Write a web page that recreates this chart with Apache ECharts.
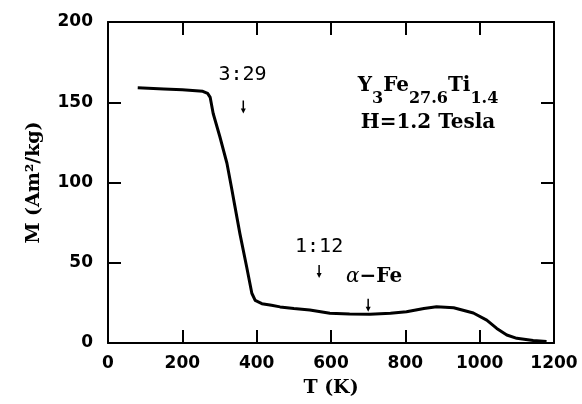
<!DOCTYPE html>
<html>
<head>
<meta charset="utf-8">
<script src="https://cdn.jsdelivr.net/npm/echarts@6/dist/echarts.min.js"></script>
<style>
html, body { margin: 0; padding: 0; background: #fff; }
#chart { width: 582px; height: 404px; }
</style>
</head>
<body>
<div id="chart"></div>
<script>
// temperature (K) and magnetization (Am^2/kg)
const temps = [80, 150, 200, 255, 268, 275, 283, 301, 320, 333, 340, 355, 373, 387, 396, 414, 440, 463, 500, 543,
    597, 650, 705, 760, 803, 850, 884, 930, 983, 1019, 1046, 1073, 1100, 1144, 1180];
const mag = [159, 158.3, 157.8, 156.8, 155.5, 153, 143, 128.5, 112, 96, 87, 68, 47.5, 31, 26.5, 24.5, 23.5, 22.5, 21.5, 20.6,
    18.5, 18, 17.9, 18.5, 19.5, 21.5, 22.6, 22, 18.7, 14.3, 9.1, 5, 2.9, 1.5, 1.0];

// phase labels and where their arrows point
const noteText = ['3:29', '1:12', 'α−Fe'];
const noteT = [362, 568, 716];
const noteM = [167, 60, 41];
const arrowT = [364, 568, 700];
const arrowM = [143, 40.5, 19.5];

// sample / field label
const boxT = 861;
const boxM = [163, 137];

let chart = echarts.init(document.getElementById('chart'));

const tickFont = { fontFamily: 'DejaVu Sans', fontWeight: 'bold', fontSize: 17, color: '#000' };
const nameFont = { fontFamily: 'DejaVu Serif', fontWeight: 'bold', fontSize: 19, color: '#000' };
const lineSt = { color: '#000', width: 2 };

function axisBase(min, max, step) {
    return {
        type: 'value', min: min, max: max, interval: step,
        axisLine: { show: true, onZero: false, lineStyle: lineSt },
        axisTick: { show: true, inside: true, length: 13, lineStyle: lineSt },
        splitLine: { show: false }
    };
}

chart.setOption({
    animation: false,
    backgroundColor: '#fff',
    grid: { left: 108, top: 22, right: 28, bottom: 61 },
    xAxis: [
        Object.assign(axisBase(0, 1200, 200), {
            position: 'bottom',
            axisLabel: Object.assign({ margin: 12, formatter: v => String(v) }, tickFont),
            name: 'T (K)', nameLocation: 'middle', nameGap: 36,
            nameTextStyle: nameFont
        }),
        Object.assign(axisBase(0, 1200, 200), { position: 'top', axisLabel: { show: false } })
    ],
    yAxis: [
        Object.assign(axisBase(0, 200, 50), {
            position: 'left',
            axisLabel: Object.assign({ margin: 15 }, tickFont),
            name: 'M (Am²/kg)', nameLocation: 'middle', nameGap: 64,
            nameTextStyle: nameFont
        }),
        Object.assign(axisBase(0, 200, 50), { position: 'right', axisLabel: { show: false } })
    ],
    series: [{
        type: 'line',
        xAxisIndex: 0, yAxisIndex: 0,
        data: temps.map((t, i) => [t, mag[i]]),
        showSymbol: false,
        smooth: false,
        lineStyle: { color: '#000', width: 3, join: 'round' }
    }]
});

function px(t, m) {
    return chart.convertToPixel({ xAxisIndex: 0, yAxisIndex: 0 }, [t, m]);
}

let graphics = [];
noteText.forEach((txt, i) => {
    let p = px(noteT[i], noteM[i]);
    let style;
    if (txt.indexOf('α') === 0) {
        style = {
            text: '{a|α}{b|−Fe}',
            rich: {
                a: { fontFamily: 'DejaVu Serif', fontStyle: 'italic', fontSize: 20, fill: '#000' },
                b: { fontFamily: 'DejaVu Serif', fontWeight: 'bold', fontSize: 20, fill: '#000' }
            }
        };
    } else {
        style = { text: txt, fontFamily: 'DejaVu Sans Mono', fontSize: 20, fill: '#000' };
    }
    style.align = 'center';
    style.verticalAlign = 'middle';
    graphics.push({ type: 'text', x: p[0], y: p[1], style: style });

    // small down arrow
    let tip = px(arrowT[i], arrowM[i]);
    graphics.push({
        type: 'line',
        shape: { x1: tip[0], y1: tip[1] - 13, x2: tip[0], y2: tip[1] - 4 },
        style: { stroke: '#000', lineWidth: 1.5 }
    });
    graphics.push({
        type: 'polygon',
        shape: { points: [[tip[0] - 2.5, tip[1] - 5], [tip[0] + 2.5, tip[1] - 5], [tip[0], tip[1]]] },
        style: { fill: '#000' }
    });
});

let b1 = px(boxT, boxM[0]);
let b2 = px(boxT, boxM[1]);
graphics.push({
    type: 'text', x: b1[0], y: b1[1] + 4,
    style: {
        text: '{m|Y}{s|3}{m|Fe}{s|27.6}{m|Ti}{s|1.4}',
        align: 'center', verticalAlign: 'middle',
        rich: {
            m: { fontFamily: 'DejaVu Serif', fontWeight: 'bold', fontSize: 20, fill: '#000' },
            s: { fontFamily: 'DejaVu Serif', fontWeight: 'bold', fontSize: 16, fill: '#000', padding: [26, 0, 0, 0] }
        }
    }
});
graphics.push({
    type: 'text', x: b2[0], y: b2[1],
    style: {
        text: 'H=1.2 Tesla', align: 'center', verticalAlign: 'middle',
        fontFamily: 'DejaVu Serif', fontWeight: 'bold', fontSize: 20, fill: '#000'
    }
});

chart.setOption({ graphic: graphics });
</script>
</body>
</html>
